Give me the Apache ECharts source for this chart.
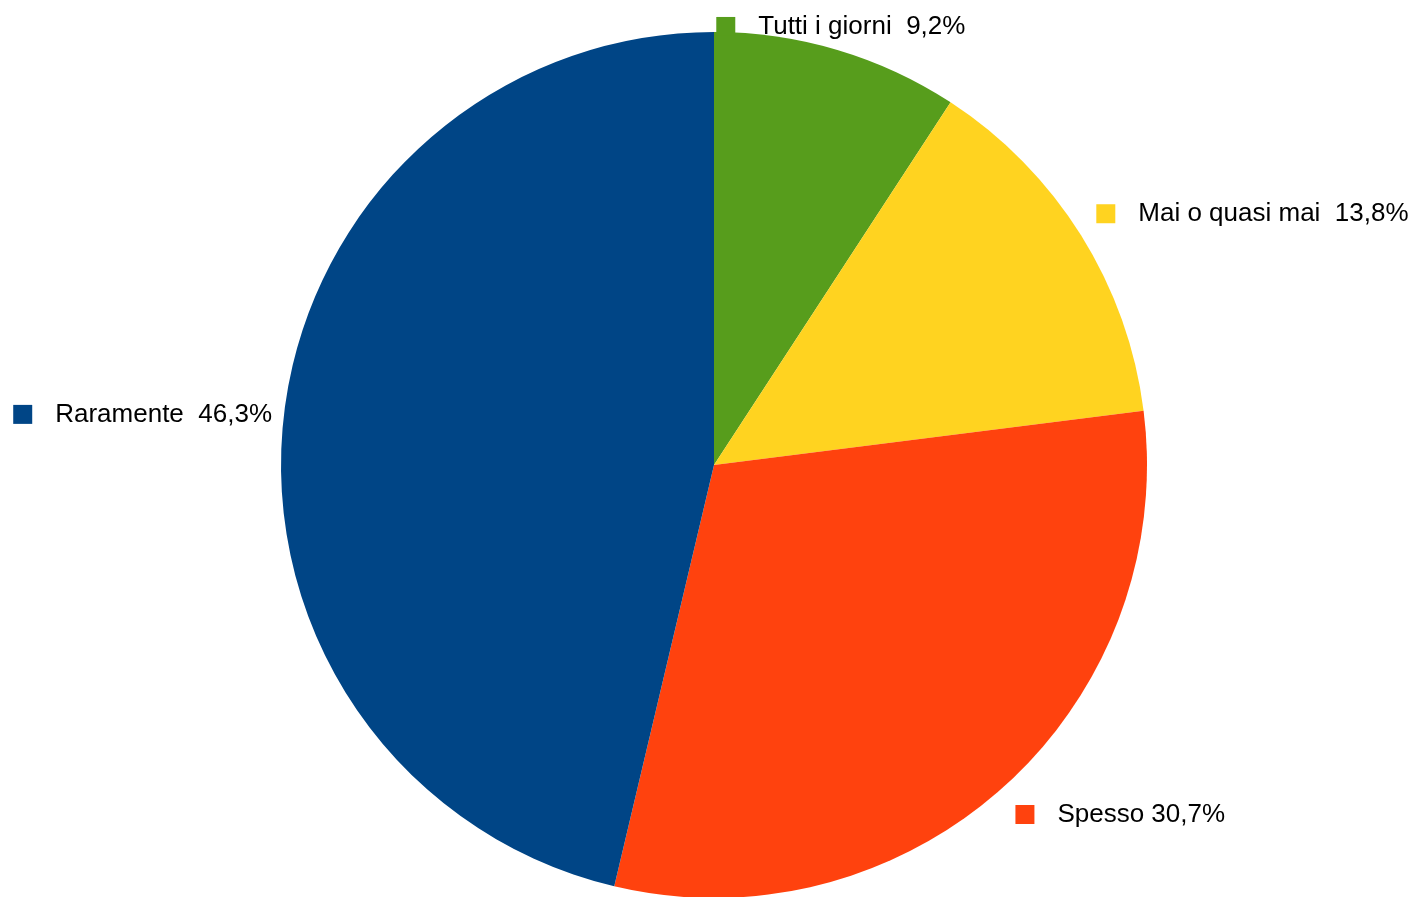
<!DOCTYPE html>
<html>
<head>
<meta charset="utf-8">
<style>
html,body{margin:0;padding:0;background:#fff;}
#chart{width:1416px;height:897px;}
</style>
<script src="https://cdn.jsdelivr.net/npm/echarts@6/dist/echarts.min.js"></script>
</head>
<body>
<div id="chart"></div>
<script>
// Data
const categories = ['Tutti i giorni ', 'Mai o quasi mai ', 'Spesso', 'Raramente '];
const values = [9.2, 13.8, 30.7, 46.3];
const colors = ['#579D1C', '#FFD320', '#FF420E', '#004586'];

const CX = 714, CY = 465, R = 433;
const EDGE_R = 445, CORNER_R = 451;
const total = values.reduce((a, b) => a + b, 0);

const chart = echarts.init(document.getElementById('chart'), null, {renderer: 'canvas'});

const data = categories.map((c, i) => ({
  name: c,
  value: values[i],
  itemStyle: {color: colors[i]},
  label: {
    rich: {
      sq: {width: 19, height: 19, backgroundColor: colors[i]},
      gap: {width: 23},
      t: {fontSize: 26, color: '#000', fontFamily: '"Liberation Sans", Arial, sans-serif'}
    }
  }
}));

chart.setOption({
  backgroundColor: '#ffffff',
  animation: false,
  series: [{
    type: 'pie',
    center: [CX, CY],
    radius: [0, R],
    startAngle: 90,
    clockwise: true,
    avoidLabelOverlap: false,
    data: data,
    label: {
      show: true,
      position: 'outside',
      formatter: p => '{sq|}{gap|}{t|' + p.name + ' ' + p.value.toFixed(1).replace('.', ',') + '%}'
    },
    labelLine: {show: false},
    emphasis: {disabled: true},
    labelLayout: function (params) {
      const i = params.dataIndex;
      let cum = 0;
      for (let k = 0; k < i; k++) cum += values[k];
      const theta = (cum + values[i] / 2) / total * Math.PI * 2;
      const s = Math.sin(theta), c = Math.cos(theta);
      const hEdge = Math.abs(s) < 0.35, vEdge = Math.abs(c) < 0.35;
      const lr = (hEdge || vEdge) ? EDGE_R : CORNER_R;
      const x = CX + lr * s;
      const y = CY - lr * c;
      const w = params.labelRect.width, h = params.labelRect.height;
      let left, top;
      if (hEdge) left = x - w / 2;
      else if (s > 0) left = x;
      else left = x - w;
      if (vEdge) top = y - h / 2;
      else if (c > 0) top = y - h;
      else top = y;
      return {x: left, y: top + h / 2 + 1, align: 'left', verticalAlign: 'middle'};
    }
  }]
});
</script>
</body>
</html>
